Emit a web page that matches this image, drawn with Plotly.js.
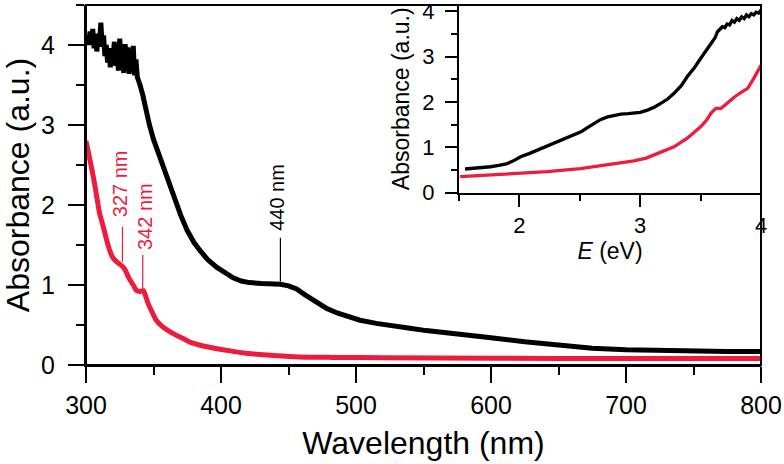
<!DOCTYPE html>
<html>
<head>
<meta charset="utf-8">
<script src="https://cdn.plot.ly/plotly-3.0.1.min.js"></script>
<style>html,body{margin:0;padding:0;background:#fff;}#chart{width:784px;height:464px;}</style>
</head>
<body>
<div id="chart"></div>
<script>
// Main panel: absorbance vs wavelength
const wlBlack = [300,301,302,303,304,305,306,307,308,309,310,311,312,313,314,315,316,317,318,319,320,321,322,323,324,325,326,327,328,329,330,331,332,333,334,335,336,337,338,339,340,342,344,347,350,353,356,360,365,370,375,380,385,390,397,403,409,415,421,430,437,444,450,456,462,466,471,478,486,494,503,515,525,540,552,575,600,625,650,675,700,725,750,775,800];
const absBlack = [4.02,4.12,4.00,4.17,4.04,4.20,3.96,4.14,3.92,4.10,4.02,4.28,3.98,4.12,3.86,4.00,3.78,3.96,3.72,3.94,3.82,4.04,3.74,3.99,3.68,4.08,3.78,3.96,3.65,4.01,3.76,3.97,3.64,3.92,3.68,3.99,3.62,3.82,3.60,3.56,3.50,3.38,3.22,3.00,2.82,2.68,2.52,2.32,2.10,1.88,1.68,1.53,1.42,1.32,1.22,1.15,1.09,1.05,1.03,1.02,1.02,1.01,0.99,0.95,0.88,0.84,0.78,0.71,0.65,0.60,0.56,0.52,0.49,0.46,0.43,0.38,0.34,0.29,0.25,0.21,0.19,0.18,0.175,0.17,0.17];
const wlRed = [300,303,306,308,310,312.8,315,317.8,320,322.7,325,327,329,332,335,337.5,340,342.5,344,346,349,352,356,360,366,372,378,384,395,409,420,434,458,483,520,600,700,800];
const absRed = [2.80,2.56,2.30,2.10,1.90,1.73,1.58,1.42,1.34,1.29,1.26,1.23,1.19,1.08,1.00,0.93,0.92,0.93,0.87,0.77,0.66,0.56,0.49,0.44,0.38,0.33,0.28,0.25,0.21,0.17,0.145,0.125,0.10,0.095,0.09,0.085,0.08,0.08];

// Inset: absorbance vs photon energy
const eBlack = [1.55,1.65,1.76,1.83,1.90,1.95,2.01,2.08,2.15,2.22,2.28,2.34,2.39,2.45,2.51,2.56,2.62,2.67,2.73,2.78,2.84,2.90,2.95,3.00,3.06,3.12,3.17,3.23,3.28,3.34,3.39,3.45,3.50,3.55,3.59,3.62,3.64,3.66,3.68,3.70,3.72,3.74,3.76,3.78,3.80,3.82,3.84,3.86,3.88,3.90,3.92,3.94,3.96,3.98,4.00];
const absBlackE = [0.52,0.54,0.57,0.60,0.64,0.70,0.79,0.86,0.94,1.02,1.09,1.15,1.21,1.27,1.34,1.43,1.53,1.61,1.67,1.70,1.73,1.74,1.75,1.77,1.82,1.89,1.97,2.07,2.19,2.36,2.56,2.76,2.96,3.15,3.29,3.42,3.55,3.60,3.66,3.64,3.72,3.70,3.80,3.76,3.84,3.80,3.88,3.84,3.92,3.88,3.95,3.92,3.98,3.96,4.03];
const eRed = [1.51,1.70,1.95,2.23,2.505,2.727,2.948,3.05,3.115,3.20,3.28,3.39,3.50,3.55,3.585,3.626,3.67,3.72,3.78,3.83,3.89,3.94,4.00];
const absRedE = [0.35,0.38,0.42,0.46,0.53,0.61,0.70,0.76,0.83,0.91,1.01,1.20,1.45,1.60,1.75,1.86,1.86,1.97,2.11,2.20,2.30,2.52,2.81];

// Peak labels
const peakText = ['327 nm','342 nm','440 nm'];
const peakColors = ['#ed1c3c','#ed1c3c','#000000'];
const peakLineX = [327,342,444];
const peakLineTop = [1.725,1.375,1.59];
const peakLineBottom = [1.29,0.95,1.04];
const peakTextX = [325.2,343.7,441.5];
const peakTextY = [2.26,1.85,2.09];

const RED = '#ed1c3c';
const FONT = 'Arial, "Liberation Sans", sans-serif';

const traces = [
  {x: wlBlack, y: absBlack, type:'scatter', mode:'lines', line:{color:'#000', width:5}, xaxis:'x', yaxis:'y', hoverinfo:'skip'},
  {x: wlRed, y: absRed, type:'scatter', mode:'lines', line:{color:RED, width:5, shape:'spline', smoothing:0.5}, xaxis:'x', yaxis:'y', hoverinfo:'skip'},
  {x: eBlack, y: absBlackE, type:'scatter', mode:'lines', line:{color:'#000', width:3.3}, xaxis:'x2', yaxis:'y2', hoverinfo:'skip'},
  {x: eRed, y: absRedE, type:'scatter', mode:'lines', line:{color:RED, width:3.3}, xaxis:'x2', yaxis:'y2', hoverinfo:'skip'}
];

const shapes = peakLineX.map((lx,i)=>({type:'line', xref:'x', yref:'y', x0:lx, x1:lx, y0:peakLineBottom[i], y1:peakLineTop[i], line:{color:peakColors[i], width:1.2}}));
// frame of the main panel (top and right edges)
shapes.push({type:'rect', xref:'paper', yref:'paper', x0:0, x1:1, y0:0, y1:1, line:{color:'#000', width:2}, fillcolor:'rgba(0,0,0,0)'});
const annotations = peakText.map((t,i)=>({xref:'x', yref:'y', x:peakTextX[i], y:peakTextY[i], text:t, textangle:-90, showarrow:false, font:{family:FONT, size:20, color:peakColors[i]}}));

const layout = {
  width:784, height:464,
  margin:{l:86, r:23, t:5, b:99},
  showlegend:false,
  xaxis:{
    domain:[0,1], range:[300,800], dtick:100,
    ticks:'outside', ticklen:16, tickwidth:2, tickcolor:'#000',
    minor:{dtick:50, ticks:'outside', ticklen:8, tickwidth:2, tickcolor:'#000'},
    showline:true, linewidth:2, linecolor:'#000',
    showgrid:false, zeroline:false,
    tickfont:{family:FONT, size:25, color:'#000'},
    ticklabelstandoff:1,
    title:{text:'Wavelength (nm)', font:{family:FONT, size:32, color:'#000'}, standoff:14}
  },
  yaxis:{
    domain:[0,1], range:[0,4.5], dtick:1,
    ticks:'outside', ticklen:16, tickwidth:2, tickcolor:'#000',
    minor:{dtick:0.5, ticks:'outside', ticklen:8, tickwidth:2, tickcolor:'#000'},
    showline:true, linewidth:2, linecolor:'#000',
    showgrid:false, zeroline:false,
    tickfont:{family:FONT, size:25, color:'#000'},
    ticklabelstandoff:8,
    title:{text:'Absorbance (a.u.)', font:{family:FONT, size:32, color:'#000'}, standoff:8}
  },
  xaxis2:{
    domain:[0.5526,1], range:[1.5,4], anchor:'y2', dtick:1,
    ticks:'outside', ticklen:12, tickwidth:2, tickcolor:'#000',
    minor:{dtick:0.5, ticks:'outside', ticklen:6, tickwidth:2, tickcolor:'#000'},
    showline:true, linewidth:2, linecolor:'#000',
    showgrid:false, zeroline:false,
    tickfont:{family:FONT, size:22, color:'#000'},
    title:{text:'<i>E</i> (eV)', font:{family:FONT, size:23, color:'#000'}, standoff:6}
  },
  yaxis2:{
    domain:[0.479,1], range:[0,4.14], anchor:'x2', dtick:1,
    ticks:'outside', ticklen:12, tickwidth:2, tickcolor:'#000',
    minor:{dtick:0.5, ticks:'outside', ticklen:6, tickwidth:2, tickcolor:'#000'},
    showline:true, linewidth:2, linecolor:'#000',
    showgrid:false, zeroline:false,
    tickfont:{family:FONT, size:22, color:'#000'},
    ticklabeloverflow:'allow',
    ticklabelstandoff:6,
    title:{text:'Absorbance (a.u.)', font:{family:FONT, size:23, color:'#000'}, standoff:6}
  },
  shapes: shapes,
  annotations: annotations
};

Plotly.newPlot('chart', traces, layout, {displayModeBar:false});
</script>
</body>
</html>
